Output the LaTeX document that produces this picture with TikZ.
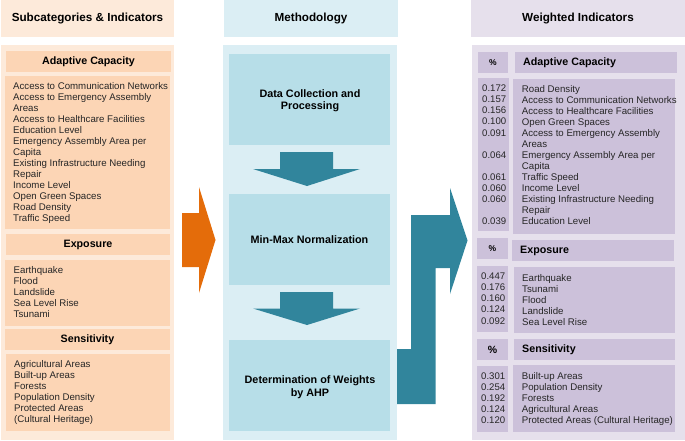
\documentclass[tikz,border=0pt]{standalone}
\usepackage{fontspec}
\setmainfont{Liberation Sans}
\usetikzlibrary{positioning}
\definecolor{orangepanel}{HTML}{FDEADA}
\definecolor{orangebox}{HTML}{FCD5B5}
\definecolor{orangearrow}{HTML}{E46C0A}
\definecolor{bluepanel}{HTML}{DBEEF4}
\definecolor{bluebox}{HTML}{B7DEE8}
\definecolor{tealarrow}{HTML}{31859C}
\definecolor{purplepanel}{HTML}{E6E0EC}
\definecolor{purplebox}{HTML}{CCC1DA}
\tikzset{
  pbox/.style n args={3}{anchor=north west,inner sep=0pt,outer sep=0pt,
    minimum width=#1,minimum height=#2,fill=#3,text=black},
  titletext/.style={font=\fontsize{11.7}{13}\selectfont\bfseries,text depth=3pt,text height=9pt},
  headtext/.style={font=\fontsize{10.7}{12}\selectfont\bfseries},
  steptext/.style={font=\fontsize{10.8}{12.4}\selectfont\bfseries,align=center},
  listtext/.style={anchor=north west,inner sep=0pt,align=left,text=black!85,
    font=\fontsize{9.67}{11.08}\selectfont},
  numtext/.style={listtext,font=\fontsize{9.6}{11.08}\selectfont},
  lefttext/.style={anchor=west,inner sep=0pt},
}
\begin{document}
\begin{tikzpicture}[x=1pt,y=-1pt]
  \useasboundingbox (0,0) rectangle (685,440);
  % Left column
  \node[pbox={173pt}{37pt}{orangepanel},titletext] (subhead) at (1,0) {Subcategories \& Indicators};
  \node[pbox={173pt}{395pt}{orangepanel}] (subpanel) at (1,45) {};
  \node[pbox={165pt}{21pt}{orangebox},headtext] (adapthead) at (6,51) {Adaptive Capacity};
  \node[pbox={165pt}{153pt}{orangebox}] (adaptbody) at (5,76) {};
  \node[pbox={164pt}{21pt}{orangebox},headtext] (exphead) at (6,234) {Exposure};
  \node[pbox={165pt}{66pt}{orangebox}] (expbody) at (5,260) {};
  \node[pbox={165pt}{21pt}{orangebox},headtext] (senshead) at (5,329) {Sensitivity};
  \node[pbox={164pt}{77pt}{orangebox}] (sensbody) at (6,354) {};
  \node[listtext] (adaptlist) at (13,81.8) {Access to Communication Networks\\Access to Emergency Assembly\\Areas\\Access to Healthcare Facilities\\Education Level\\Emergency Assembly Area per\\Capita\\Existing Infrastructure Needing\\Repair\\Income Level\\Open Green Spaces\\Road Density\\Traffic Speed};
  \node[listtext] (explist) at (13.5,265.8) {Earthquake\\Flood\\Landslide\\Sea Level Rise\\Tsunami};
  \node[listtext] (senslist) at (14,359.8) {Agricultural Areas\\Built-up Areas\\Forests\\Population Density\\Protected Areas\\(Cultural Heritage)};
  % Middle column
  \node[pbox={174pt}{37pt}{bluepanel},titletext] (methhead) at (224,0) {Methodology};
  \node[pbox={174pt}{395pt}{bluepanel}] (methpanel) at (223,45) {};
  \node[pbox={161pt}{91pt}{bluebox}] (datastep) at (229,54) {};
  \node[pbox={161pt}{91pt}{bluebox},steptext] (normstep) at (229,194) {Min-Max Normalization};
  \node[pbox={161pt}{91pt}{bluebox}] (ahpstep) at (229,340) {};
  \node[steptext,inner sep=0pt] (datatext) at (310,101) {Data Collection and\\Processing};
  \node[steptext,inner sep=0pt] (ahptext) at (310,387) {Determination of Weights\\by AHP};
  % Right column
  \node[pbox={214pt}{37pt}{purplepanel},titletext] (weighthead) at (471,0) {Weighted Indicators};
  \node[pbox={213pt}{395pt}{purplepanel}] (weightpanel) at (472,45) {};
  \node[pbox={30pt}{21pt}{purplebox},font=\fontsize{8.5}{10}\selectfont\bfseries] (pcta) at (478,52) {\%};
  \node[pbox={162pt}{21pt}{purplebox}] (wadapthead) at (515,52) {};
  \node[pbox={31pt}{153pt}{purplebox}] (pctabody) at (478,78) {};
  \node[pbox={162pt}{155pt}{purplebox}] (wadaptbody) at (513,79) {};
  \node[pbox={31pt}{21pt}{purplebox},font=\fontsize{8.5}{10}\selectfont\bfseries] (pctb) at (477,238) {\%};
  \node[pbox={161.5pt}{21pt}{purplebox}] (wexphead) at (512,240) {};
  \node[pbox={31pt}{66pt}{purplebox}] (pctbbody) at (477,266) {};
  \node[pbox={161pt}{66pt}{purplebox}] (wexpbody) at (514,267) {};
  \node[pbox={31pt}{21pt}{purplebox},font=\fontsize{10.5}{12}\selectfont\bfseries] (pctc) at (477,339) {\%};
  \node[pbox={161pt}{21pt}{purplebox}] (wsenshead) at (514,339) {};
  \node[pbox={31pt}{66pt}{purplebox}] (pctcbody) at (477,366) {};
  \node[pbox={162pt}{67pt}{purplebox}] (wsensbody) at (513,365) {};
  \node[lefttext,headtext] (wadapttitle) at (523,62.5) {Adaptive Capacity};
  \node[lefttext,headtext] (wexptitle) at (520,251) {Exposure};
  \node[lefttext,headtext] (wsenstitle) at (522,349.5) {Sensitivity};
  \node[numtext] (numsa) at (482,84.8) {0.172\\0.157\\0.156\\0.100\\0.091\\\\0.064\\\\0.061\\0.060\\0.060\\\\0.039};
  \node[listtext] (wadaptlist) at (521.7,84.8) {Road Density\\Access to Communication Networks\\Access to Healthcare Facilities\\Open Green Spaces\\Access to Emergency Assembly\\Areas\\Emergency Assembly Area per\\Capita\\Traffic Speed\\Income Level\\Existing Infrastructure Needing\\Repair\\Education Level};
  \node[numtext] (numsb) at (481,272.8) {0.447\\0.176\\0.160\\0.124\\0.092};
  \node[listtext] (wexplist) at (522,273.8) {Earthquake\\Tsunami\\Flood\\Landslide\\Sea Level Rise};
  \node[numtext] (numsc) at (481,372.3) {0.301\\0.254\\0.192\\0.124\\0.120};
  \node[listtext] (wsenslist) at (521.7,371.8) {Built-up Areas\\Population Density\\Forests\\Agricultural Areas\\Protected Areas (Cultural Heritage)};
  % Block arrows
  \fill[orangearrow] (182,213) -- (199,213) -- (199,187) -- (215.5,240) -- (199,293) -- (199,267) -- (182,267) -- cycle;
  \fill[tealarrow] (280,152) -- (333,152) -- (333,169) -- (360,169) -- (307,186) -- (253,169) -- (280,169) -- cycle;
  \fill[tealarrow] (280,292) -- (333,292) -- (333,308.5) -- (360,308.5) -- (307,325) -- (253,308.5) -- (280,308.5) -- cycle;
  \fill[tealarrow] (397,349) -- (411,349) -- (411,215) -- (450,215) -- (450,188) -- (467.5,240.5) -- (450,294) -- (450,268) -- (435.7,268) -- (435.7,404) -- (397,404) -- cycle;
\end{tikzpicture}
\end{document}
